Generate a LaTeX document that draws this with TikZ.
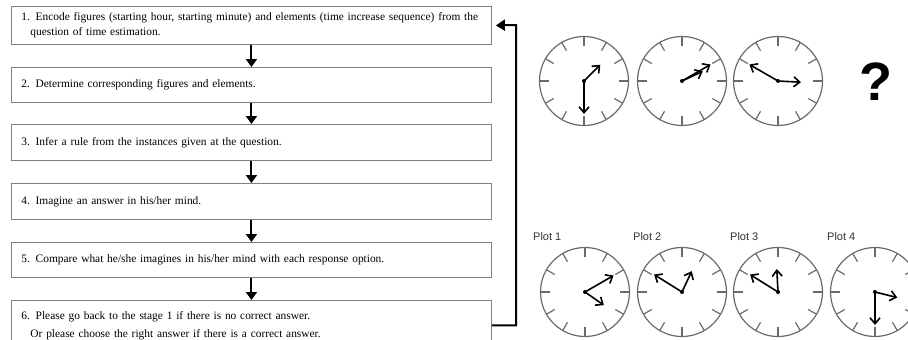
\documentclass[tikz,border=0pt]{standalone}
\usepackage{fontspec}
\setmainfont{Liberation Serif}
\newfontfamily\plotfont{Liberation Sans}
\usetikzlibrary{arrows.meta}
\definecolor{boxgray}{HTML}{7F7F7F}
\definecolor{facegray}{HTML}{6A6A6A}
\newcommand\drawclock[4]{%
  \begin{scope}[shift={(#1,#2)}]
    \draw[face] (0,0) circle[radius=44.5pt];
    \foreach \a in {0,30,...,330} \draw[face] (\a:35pt) -- (\a:44.5pt);
    \draw[hand] (0,0) -- (#3:23pt);
    \draw[hand] (0,0) -- (#4:33pt);
    \fill (0,0) circle[radius=2pt];
  \end{scope}}
\begin{document}
\begin{tikzpicture}[x=1pt,y=-1pt,
  box/.style={draw=boxgray, line width=0.9pt, rectangle, anchor=north west,
    minimum width=480pt, inner xsep=10pt, inner ysep=0pt, text width=460pt,
    align=left, font=\fontsize{11.4}{15}\selectfont},
  flow/.style={line width=2pt, -{Triangle[width=11pt,length=8pt]}},
  face/.style={draw=facegray, line width=1.2pt},
  hand/.style={line width=1.6pt, -{Straight Barb[width=10pt,length=6pt]}},
  plotlbl/.style={font=\plotfont\fontsize{11}{12}\selectfont, text=black!80, anchor=west, inner sep=0pt}
]
\useasboundingbox (0,0) rectangle (908,340);
\clip (0,0) rectangle (908,340);

% flow boxes
\node[box, minimum height=38pt] (b1) at (11,6)
  {\mbox{1. Encode figures (starting hour, starting minute) and elements (time increase sequence) from the}\\\hspace*{9pt}question of time estimation.};
\node[box, minimum height=35pt] (b2) at (11,67) {2. Determine corresponding figures and elements.};
\node[box, minimum height=36pt] (b3) at (11,124) {3. Infer a rule from the instances given at the question.};
\node[box, minimum height=36pt] (b4) at (11,183) {4. Imagine an answer in his/her mind.};
\node[box, minimum height=35pt] (b5) at (11,242) {5. Compare what he/she imagines in his/her mind with each response option.};
\node[box, minimum height=50pt, font=\fontsize{11.4}{18}\selectfont] (b6) at (11,300)
  {6. Please go back to the stage 1 if there is no correct answer.\\\hspace*{9pt}Or please choose the right answer if there is a correct answer.};

\draw[flow] (b1) -- (b2);
\draw[flow] (b2) -- (b3);
\draw[flow] (b3) -- (b4);
\draw[flow] (b4) -- (b5);
\draw[flow] (b5) -- (b6);

\coordinate (fbx) at (516,25);
\draw[line width=2pt, -{Triangle[width=11pt,length=9pt]}, shorten >=4pt]
  (b6.east) -| (fbx) -- (b1.east);

% question clocks
\drawclock{584}{81}{45}{-90}
\drawclock{682}{81}{25}{30}
\drawclock{778}{81}{-3}{150}
\node[font=\plotfont\bfseries\fontsize{54}{54}\selectfont, inner sep=0pt] (q) at (876,82) {?};

% options
\node[plotlbl] (p1) at (533,237) {Plot 1};
\node[plotlbl] (p2) at (633,237) {Plot 2};
\node[plotlbl] (p3) at (730,237) {Plot 3};
\node[plotlbl] (p4) at (827,237) {Plot 4};
\drawclock{585}{292}{-35}{30}
\drawclock{682}{292}{65}{148}
\drawclock{778}{292}{93}{148}
\drawclock{875}{292}{-14}{-90}
\end{tikzpicture}
\end{document}
